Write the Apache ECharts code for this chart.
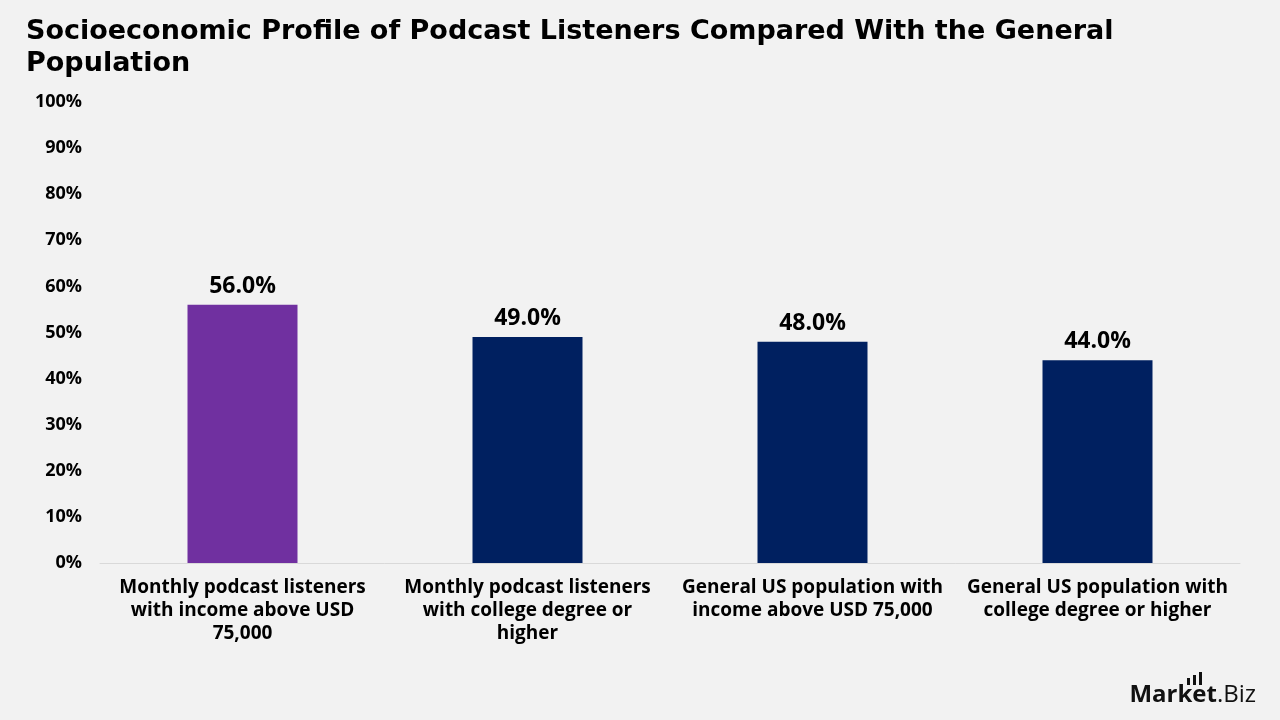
<!DOCTYPE html>
<html>
<head>
<meta charset="utf-8">
<script src="https://cdn.jsdelivr.net/npm/echarts@6/dist/echarts.min.js"></script>
<style>
  html, body { margin: 0; padding: 0; background: #f2f2f2; }
  #chart { width: 1280px; height: 720px; }
</style>
</head>
<body>
<div id="chart"></div>
<script>
// data
const categories = [
  'Monthly podcast listeners\nwith income above USD\n75,000',
  'Monthly podcast listeners\nwith college degree or\nhigher',
  'General US population with\nincome above USD 75,000',
  'General US population with\ncollege degree or higher'
]
const values = [56.0, 49.0, 48.0, 44.0]
const barColors = ['#7030a0', '#002060', '#002060', '#002060']

const font = '"Open Sans", Lato, sans-serif'
const chart = echarts.init(document.getElementById('chart'))

chart.setOption({
  backgroundColor: '#f2f2f2',
  textStyle: { fontFamily: font },
  title: {
    text: 'Socioeconomic Profile of Podcast Listeners Compared With the General\nPopulation',
    left: 26,
    top: 16,
    padding: 0,
    textStyle: { fontFamily: '"DejaVu Sans", sans-serif', fontWeight: 'bold', fontSize: 27, lineHeight: 32, color: '#000' }
  },
  grid: { left: 100, right: 40, top: 102, bottom: 157 },
  xAxis: {
    type: 'category',
    data: categories,
    axisTick: { show: false },
    axisLine: { lineStyle: { color: '#d9d9d9', width: 1 } },
    axisLabel: {
      interval: 0,
      margin: 13,
      fontFamily: font,
      fontWeight: 'bold',
      fontSize: 19,
      lineHeight: 23,
      color: '#000'
    }
  },
  yAxis: {
    type: 'value',
    min: 0,
    max: 100,
    interval: 10,
    splitLine: { show: false },
    axisLine: { show: false },
    axisTick: { show: false },
    axisLabel: {
      formatter: '{value}%',
      margin: 18,
      fontFamily: font,
      fontWeight: 'bold',
      fontSize: 18,
      color: '#000'
    }
  },
  series: [{
    type: 'bar',
    barWidth: 110,
    data: values.map((v, i) => ({ value: v, itemStyle: { color: barColors[i] } })),
    label: {
      show: true,
      position: 'top',
      distance: 7,
      formatter: p => p.value.toFixed(1) + '%',
      fontFamily: font,
      fontWeight: 'bold',
      fontSize: 23,
      color: '#000'
    }
  }],
  graphic: [
    {
      type: 'text',
      right: 24,
      bottom: 13,
      style: {
        text: '{a|Market}{b|.Biz}',
        rich: {
          a: { fontFamily: font, fontWeight: 'bold', fontSize: 24, fill: '#111' },
          b: { fontFamily: font, fontWeight: 'normal', fontSize: 24, fill: '#111' }
        }
      }
    },
    // small bars of the logo
    { type: 'rect', shape: { x: 1187, y: 678, width: 3, height: 7 }, style: { fill: '#111' } },
    { type: 'rect', shape: { x: 1193, y: 675, width: 3, height: 10 }, style: { fill: '#111' } },
    { type: 'rect', shape: { x: 1199, y: 672, width: 3, height: 13 }, style: { fill: '#111' } }
  ]
})
</script>
</body>
</html>
